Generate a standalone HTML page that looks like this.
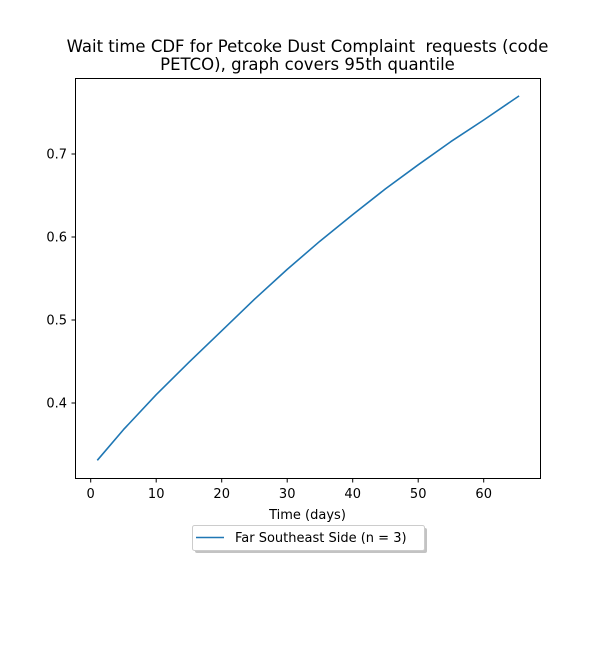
<!DOCTYPE html>
<html><head><meta charset="utf-8"><style>
body{margin:0;background:#fff;}
svg text{font-family:"DejaVu Sans","Liberation Sans",sans-serif;fill:#000;}
</style></head><body>
<svg width="600" height="650" viewBox="0 0 600 650" xmlns="http://www.w3.org/2000/svg">
<rect width="600" height="650" fill="#fff"/>
<text x="307.5" y="52" font-size="16.5" text-anchor="middle" xml:space="preserve">Wait time CDF for Petcoke Dust Complaint  requests (code</text>
<text x="307.5" y="70" font-size="16.5" text-anchor="middle">PETCO), graph covers 95th quantile</text>
<g id="ticks"></g>
<path id="line" fill="none" stroke="#1f77b4" stroke-width="1.6" stroke-linejoin="round"/>
<rect x="75.5" y="78.5" width="465" height="400" fill="none" stroke="#000" stroke-width="1"/>
<text x="307.5" y="519" font-size="13" text-anchor="middle">Time (days)</text>
<g>
<rect x="195" y="528" width="232" height="25" rx="2" fill="#aaa" opacity="0.7"/>
<rect x="192.5" y="525.5" width="232" height="25" rx="2" fill="#fff" stroke="#ccc"/>
<line x1="196" y1="537.5" x2="224" y2="537.5" stroke="#1f77b4" stroke-width="1.6"/>
<text x="235" y="542" font-size="13">Far Southeast Side (n = 3)</text>
</g>
</svg>
<script>
const xs=[1,5,10,15,20,25,30,35,40,45,50,55,60,65.4];
const ys=[0.331,0.368,0.410,0.449,0.487,0.525,0.561,0.595,0.627,0.658,0.687,0.715,0.741,0.770];
const xTicks=[0,10,20,30,40,50,60];
const yTicks=[0.4,0.5,0.6,0.7];
const sx=v=>90.7+v*6.55;
const sy=v=>403-(v-0.4)*830;
const NS="http://www.w3.org/2000/svg";
const g=document.getElementById('ticks');
xTicks.forEach(t=>{
 const l=document.createElementNS(NS,'line');
 
 
 l.setAttribute('x1',sx(t));l.setAttribute('x2',sx(t));l.setAttribute('y1',478.5);l.setAttribute('y2',482.5);l.setAttribute('stroke','#000');
 g.appendChild(l);
 const tx=document.createElementNS(NS,'text');
 
 
 tx.setAttribute('x',sx(t));tx.setAttribute('y',498);tx.setAttribute('font-size','13');tx.setAttribute('text-anchor','middle');
 tx.textContent=t;g.appendChild(tx);
});
yTicks.forEach(t=>{
 const l=document.createElementNS(NS,'line');
 
 
 l.setAttribute('x1',71.5);l.setAttribute('x2',75.5);l.setAttribute('y1',sy(t));l.setAttribute('y2',sy(t));l.setAttribute('stroke','#000');
 g.appendChild(l);
 const tx=document.createElementNS(NS,'text');
 
 
 tx.setAttribute('x',67);tx.setAttribute('y',sy(t)+4.5);tx.setAttribute('font-size','13');tx.setAttribute('text-anchor','end');
 tx.textContent=t.toFixed(1);g.appendChild(tx);
});
document.getElementById('line').setAttribute('d',xs.map((x,i)=>(i?'L':'M')+sx(x).toFixed(1)+','+sy(ys[i]).toFixed(1)).join(''));
</script>
</body></html>
